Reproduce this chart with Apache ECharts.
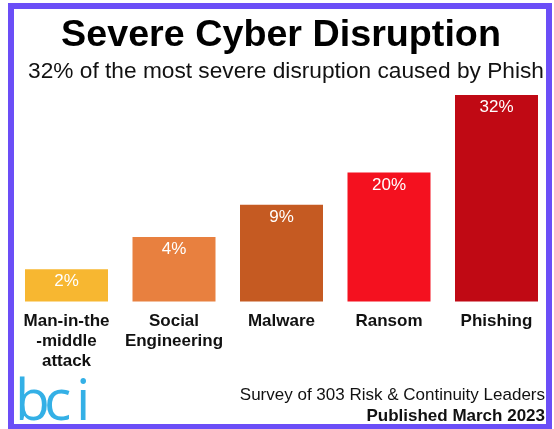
<!DOCTYPE html>
<html>
<head>
<meta charset="utf-8">
<script src="https://cdn.jsdelivr.net/npm/echarts@6/dist/echarts.min.js"></script>
<style>
html,body{margin:0;padding:0;background:#fff;}
#chart{width:554px;height:429px;}
</style>
</head>
<body>
<div id="chart"></div>
<script>
var categories = ['Man-in-the\n-middle\nattack', 'Social\nEngineering', 'Malware', 'Ransom', 'Phishing'];
var percentLabels = [2, 4, 9, 20, 32];
var barHeights = [5, 10, 15, 20, 32];
var barColors = ['#f7b731', '#e8803f', '#c55a22', '#f4111f', '#c00914'];
var titleText = 'Severe Cyber Disruption';
var subtitleText = '32% of the most severe disruption caused by Phish';
var footerLines = ['Survey of 303 Risk & Continuity Leaders', 'Published March 2023'];
var logoLetters = ['b', 'c', 'i'];

var chart = echarts.init(document.getElementById('chart'), null, {renderer: 'canvas'});
var font = 'Liberation Sans, Arial, Helvetica, sans-serif';

var data = barHeights.map(function (h, i) {
  return {value: h, pct: percentLabels[i], itemStyle: {color: barColors[i]}};
});

var logoX = [15, 44, 76];
var logoGraphics = logoLetters.map(function (ch, i) {
  return {type: 'text', x: logoX[i], y: 432,
    style: {text: ch, fill: '#34b0e6', font: 'normal 57px "Open Sans", sans-serif', textAlign: 'left', textVerticalAlign: 'bottom'}};
});

chart.setOption({
  animation: false,
  backgroundColor: '#ffffff',
  grid: {left: 12.75, right: 3.75, top: 95, bottom: 127.5},
  xAxis: {
    type: 'category',
    data: categories,
    axisLine: {show: false},
    axisTick: {show: false},
    axisLabel: {
      interval: 0, margin: 10,
      fontFamily: font, fontWeight: 'bold', fontSize: 17, lineHeight: 20, color: '#111'
    }
  },
  yAxis: {type: 'value', min: 0, max: 32, show: false, splitLine: {show: false}},
  series: [{
    type: 'bar',
    data: data,
    barWidth: 83,
    label: {
      show: true, position: 'insideTop', distance: 4,
      fontFamily: font, fontSize: 17, color: '#ffffff',
      formatter: function (p) { return p.data.pct + '%'; }
    }
  }],
  graphic: [
    {type: 'text', x: 281, y: 36,
     style: {text: titleText, fill: '#000', font: 'bold 37.7px ' + font, textAlign: 'center', textVerticalAlign: 'middle'}},
    {type: 'text', x: 286, y: 72,
     style: {text: subtitleText, fill: '#111', font: 'normal 22.7px ' + font, textAlign: 'center', textVerticalAlign: 'middle'}},
    {type: 'rect', shape: {x: 11, y: 6, width: 538, height: 421},
     style: {fill: 'none', stroke: '#6b4ef7', lineWidth: 6}, z: 100},
    {type: 'text', x: 545, y: 395,
     style: {text: footerLines[0], fill: '#111', font: 'normal 17px ' + font, textAlign: 'right', textVerticalAlign: 'middle'}},
    {type: 'text', x: 545, y: 416,
     style: {text: footerLines[1], fill: '#111', font: 'bold 17px ' + font, textAlign: 'right', textVerticalAlign: 'middle'}}
  ].concat(logoGraphics)
});
</script>
</body>
</html>
